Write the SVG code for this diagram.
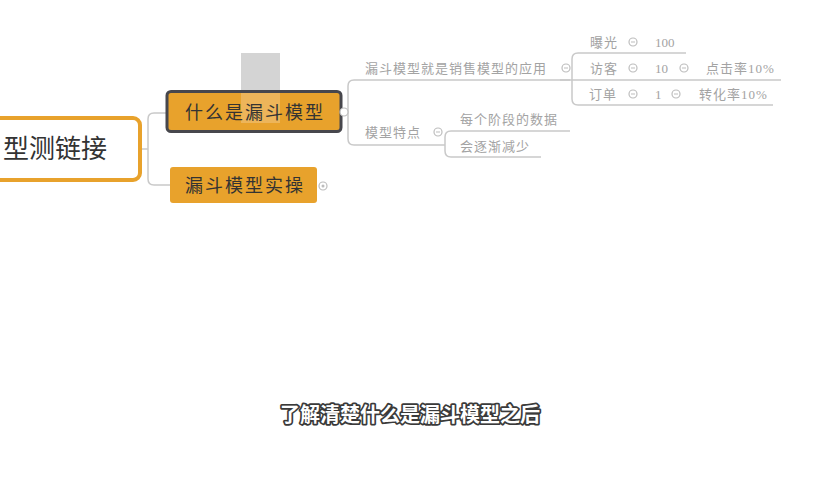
<svg xmlns="http://www.w3.org/2000/svg" width="820" height="480" viewBox="0 0 820 480">
<style>
.cn{font-family:"Noto Sans CJK SC","Liberation Sans",sans-serif}
.g{font-size:13px;fill:#a3a3a3;letter-spacing:1px}
.num{font-family:"Liberation Serif",serif;font-size:13px;fill:#a3a3a3}
.ln{fill:none;stroke:#c9c9c9;stroke-width:1.5}
.ic{fill:#fff;stroke:#bdbdbd;stroke-width:1.2}
.mk{stroke:#bdbdbd;stroke-width:1;fill:none}
.topic{font-size:18px;fill:#333;letter-spacing:2px}
</style>
<rect width="820" height="480" fill="#fff"/>
<g id="connectors">
<path class="ln" d="M141,149 H148"/>
<path class="ln" d="M167,113 H154 Q148,113 148,119 V179 Q148,185 154,185 H170"/>
<path class="ln" d="M342,112 H348"/>
<path class="ln" d="M570,80 H354 Q348,80 348,86 V139 Q348,145 354,145 H445"/>
<path class="ln" d="M686,53 H578 Q572,53 572,59 V99 Q572,105 578,105 H773"/>
<path class="ln" d="M560,80 H781"/>
<path class="ln" d="M570,131 H451 Q445,131 445,137 V151 Q445,157 451,157 H541"/>
</g>
<g id="root">
<rect x="-20" y="118" width="160" height="62" rx="7" fill="#fff" stroke="#e8a22c" stroke-width="4"/>
<text class="cn" x="107" y="158" font-size="26" fill="#333" text-anchor="end">型测链接</text>
</g>
<g id="ghost">
<rect x="241" y="53" width="39" height="47" fill="#d4d4d4"/>
</g>
<g id="n1">
<rect x="167" y="91.5" width="174" height="40" rx="4" fill="#e8a22c" stroke="#47474d" stroke-width="3"/>
<rect x="241" y="93" width="39" height="30" fill="#f0c27a" opacity="0.6"/>
<text class="cn topic" x="255" y="119" text-anchor="middle">什么是漏斗模型</text>
<circle class="ic" cx="344" cy="112" r="4"/>
</g>
<g id="n2">
<rect x="170" y="167" width="147" height="36" rx="3" fill="#e8a22c"/>
<text class="cn topic" x="245" y="192" text-anchor="middle">漏斗模型实操</text>
<circle class="ic" cx="323" cy="186" r="4"/>
<circle cx="323" cy="186" r="1.5" fill="#bdbdbd"/>
</g>
<g id="n3">
<text class="cn g" x="365" y="73">漏斗模型就是销售模型的应用</text>
<circle class="ic" cx="566" cy="68" r="4"/>
<path class="mk" d="M564,68 H568"/>
</g>
<g id="n4">
<text class="cn g" x="590" y="47">曝光</text>
<circle class="ic" cx="633" cy="42" r="4"/>
<path class="mk" d="M631,42 H635"/>
<text class="num" x="655" y="47">100</text>
</g>
<g id="n5">
<text class="cn g" x="590" y="73">访客</text>
<circle class="ic" cx="633" cy="68" r="4"/>
<path class="mk" d="M631,68 H635"/>
<text class="num" x="655" y="73">10</text>
<circle class="ic" cx="684" cy="68" r="4"/>
<path class="mk" d="M682,68 H686"/>
<text class="cn g" x="706" y="73" letter-spacing="0">点击率<tspan class="num">10%</tspan></text>
</g>
<g id="n6">
<text class="cn g" x="589" y="99">订单</text>
<circle class="ic" cx="633" cy="94" r="4"/>
<path class="mk" d="M631,94 H635"/>
<text class="num" x="655" y="99">1</text>
<circle class="ic" cx="676" cy="94" r="4"/>
<path class="mk" d="M674,94 H678"/>
<text class="cn g" x="699" y="99" letter-spacing="0">转化率<tspan class="num">10%</tspan></text>
</g>
<g id="n7">
<text class="cn g" x="365" y="137">模型特点</text>
<circle class="ic" cx="438" cy="132" r="4"/>
<path class="mk" d="M436,132 H440"/>
</g>
<g id="n8">
<text class="cn g" x="460" y="124">每个阶段的数据</text>
</g>
<g id="n9">
<text class="cn g" x="460" y="151">会逐渐减少</text>
</g>
<text class="cn" x="410" y="422" font-size="20" font-weight="bold" fill="#fff" stroke="#3a3a3a" stroke-width="3.5" paint-order="stroke" stroke-linejoin="round" text-anchor="middle">了解清楚什么是漏斗模型之后</text>
</svg>
